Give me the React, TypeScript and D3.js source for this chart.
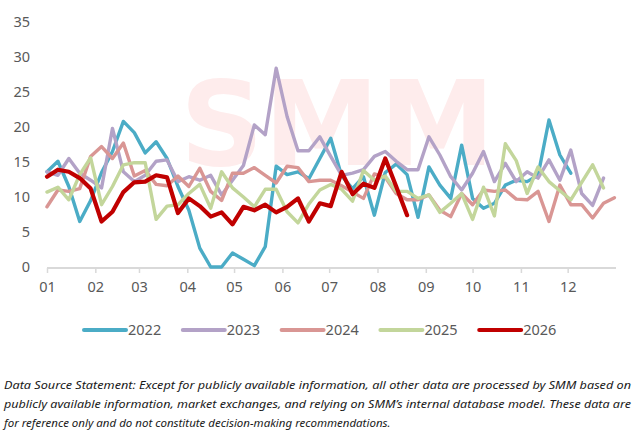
import React, { useEffect, useRef } from 'react';
import * as d3 from 'd3';

// weekly readings, one value per week starting 1 Jan
const SERIES_2022 = [13.6, 15.1, 11.5, 6.5, 9.5, 13.5, 16.5, 20.8, 19.2, 16.3, 17.9, 15.5, 11.5, 8.1, 2.7, 0, 0, 2.0, 1.1, 0.2, 2.9, 14.4, 13.2, 13.6, 12.6, 15.5, 18.4, 13.0, 11.2, 12.9, 7.4, 13.5, 14.7, 13.2, 7.1, 14.3, 11.7, 9.8, 17.4, 9.8, 8.4, 9.1, 11.7, 12.4, 12.2, 13.1, 21.0, 16.0, 13.4];
const SERIES_2023 = [13.6, 13.1, 15.5, 13.4, 12.4, 11.3, 19.8, 13.6, 12.2, 13.1, 15.1, 15.3, 12.2, 12.9, 12.4, 13.1, 10.3, 12.4, 14.5, 20.3, 18.9, 28.4, 21.5, 16.6, 16.6, 18.6, 15.8, 13.1, 13.4, 13.9, 15.8, 16.5, 15.1, 13.9, 13.9, 18.6, 16.0, 12.9, 11.0, 13.4, 16.5, 12.2, 14.8, 12.2, 13.6, 12.7, 15.3, 12.4, 16.7, 10.5, 8.8, 12.7];
const SERIES_2024 = [8.6, 11.0, 10.8, 11.2, 15.8, 17.2, 15.5, 17.7, 13.0, 13.8, 11.8, 11.6, 13.0, 11.5, 14.1, 10.8, 9.5, 13.4, 13.4, 14.2, 13.1, 12.0, 14.4, 14.2, 12.2, 12.4, 12.4, 11.6, 10.7, 9.8, 13.3, 12.8, 10.5, 9.6, 9.6, 10.3, 8.1, 7.2, 10.5, 8.9, 11.0, 10.8, 11.0, 9.7, 9.6, 10.8, 6.5, 11.7, 8.9, 8.9, 7.0, 9.1, 9.9];
const SERIES_2025 = [10.7, 11.4, 9.6, 13.2, 15.6, 8.9, 11.5, 14.6, 14.9, 14.9, 6.8, 8.7, 8.9, 10.5, 11.8, 8.4, 13.6, 11.3, 10.0, 8.6, 11.1, 11.1, 7.9, 6.3, 9.0, 11.0, 11.8, 11.1, 9.4, 13.8, 12.4, 13.0, 10.8, 10.8, 9.8, 10.3, 7.8, 9.1, 10.5, 6.8, 11.4, 7.3, 17.6, 15.2, 10.5, 14.3, 12.2, 10.9, 9.6, 12.1, 14.6, 11.3];
const SERIES_2026 = [12.9, 13.9, 13.6, 12.7, 11.2, 6.5, 7.9, 10.7, 12.1, 12.2, 13.1, 12.8, 7.7, 9.8, 8.7, 7.2, 7.8, 6.1, 8.6, 8.1, 8.9, 7.8, 8.6, 9.8, 6.5, 9.1, 8.7, 13.6, 10.4, 11.9, 11.3, 15.5, 11.5, 7.4];

const YEARS = ['2022', '2023', '2024', '2025', '2026'];
const VALUES = [SERIES_2022, SERIES_2023, SERIES_2024, SERIES_2025, SERIES_2026];
const COLORS = ['#4bacc6', '#b3a2c7', '#d99694', '#c3d69b', '#c00000'];
const Y_TICKS = [0, 5, 10, 15, 20, 25, 30, 35];

const NOTE = [
  'Data Source Statement: Except for publicly available information, all other data are processed by SMM based on',
  'publicly available information, market exchanges, and relying on SMM\u2019s internal database model. These data are',
  'for reference only and do not constitute decision-making recommendations.',
];

const FONT = '"Noto Sans", "Open Sans", sans-serif';

export default function App() {
  const ref = useRef<SVGSVGElement>(null);

  useEffect(() => {
    const svgEl = ref.current;
    if (!svgEl) return;
    const svg = d3.select(svgEl);
    svg.selectAll('*').remove();

    const start = new Date(Date.UTC(2021, 0, 1));
    const end = new Date(Date.UTC(2022, 0, 1));
    const x = d3.scaleUtc().domain([start, end]).range([47, 616]);
    const y = d3.scaleLinear().domain([0, 35]).range([267, 22]);

    // faint logo watermark behind the plot
    svg.append('text')
      .attr('x', 180)
      .attr('y', 165)
      .attr('textLength', 315)
      .attr('lengthAdjust', 'spacingAndGlyphs')
      .attr('fill', '#feecec')
      .attr('font-family', 'DejaVu Sans, sans-serif')
      .attr('font-weight', 700)
      .attr('font-size', 118)
      .text('SMM');

    // y labels
    svg.append('g')
      .selectAll('text')
      .data(Y_TICKS)
      .join('text')
      .attr('x', 30)
      .attr('y', (d) => y(d))
      .attr('dy', '0.36em')
      .attr('text-anchor', 'end')
      .attr('fill', '#595959')
      .attr('font-family', FONT)
      .attr('font-size', 14.5)
      .text((d) => d);

    // x axis, one tick per month start
    const months = d3.utcMonth.range(start, end);
    const xAxis = d3
      .axisBottom(x)
      .tickValues(months)
      .tickFormat((d) => d3.utcFormat('%m')(d as Date))
      .tickSize(5)
      .tickPadding(9);
    svg.append('g')
      .attr('transform', 'translate(0,268)')
      .call(xAxis)
      .call((s) => s.select('.domain').attr('stroke', '#d9d9d9').attr('stroke-width', 2).attr('d', 'M47,0H616'))
      .call((s) => s.selectAll('.tick line').attr('stroke', '#d9d9d9').attr('stroke-width', 1.5))
      .call((s) =>
        s.selectAll('.tick text').attr('fill', '#595959').attr('font-size', 14.5).attr('font-family', FONT)
      );

    // lines
    const line = d3
      .line<number>()
      .x((_, i) => x(d3.utcDay.offset(start, 7 * i)))
      .y((d) => y(d));

    svg.append('g')
      .selectAll('path')
      .data(VALUES)
      .join('path')
      .attr('fill', 'none')
      .attr('stroke', (_, i) => COLORS[i])
      .attr('stroke-width', (_, i) => (i === 4 ? 4.2 : 3.4))
      .attr('stroke-linejoin', 'round')
      .attr('stroke-linecap', 'round')
      .attr('d', (d) => line(d));

    // legend
    const leg = svg.append('g')
      .selectAll('g')
      .data(YEARS)
      .join('g')
      .attr('transform', (_, i) => `translate(${84 + i * 98.8},330)`);
    leg.append('line')
      .attr('x1', 0)
      .attr('x2', 42)
      .attr('stroke', (_, i) => COLORS[i])
      .attr('stroke-width', 4)
      .attr('stroke-linecap', 'round');
    leg.append('text')
      .attr('x', 44)
      .attr('dy', '0.36em')
      .attr('fill', '#595959')
      .attr('font-family', FONT)
      .attr('font-size', 14.5)
      .text((d) => d);

    // source note
    svg.append('g')
      .selectAll('text')
      .data(NOTE)
      .join('text')
      .attr('x', 4)
      .attr('y', (_, i) => 389 + i * 19)
      .attr('fill', '#1a1a1a')
      .attr('font-family', FONT)
      .attr('font-style', 'italic')
      .attr('font-size', 11.5)
      .attr('textLength', (_, i) => (i < 2 ? 627 : null))
      .attr('lengthAdjust', 'spacingAndGlyphs')
      .text((d) => d);
  }, []);

  return (
    <div style={{ position: 'absolute', left: 0, top: 0, background: '#fff' }}>
      <svg ref={ref} width={639} height={446} viewBox="0 0 639 446" aria-label="Weekly values 2022-2026" />
    </div>
  );
}
